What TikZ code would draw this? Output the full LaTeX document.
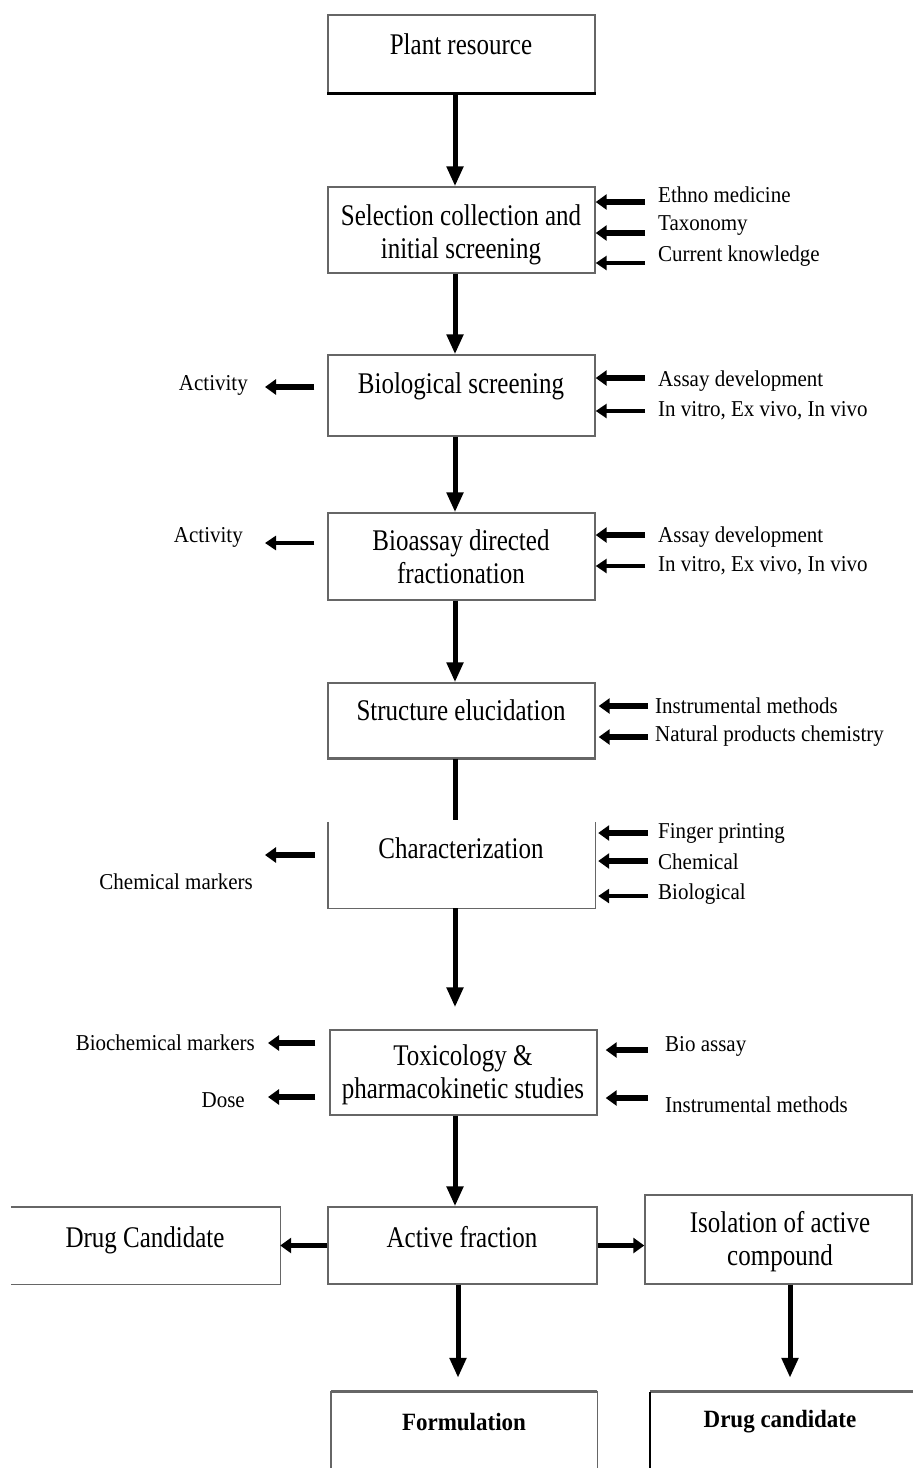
\documentclass[tikz,border=0pt]{standalone}
\usepackage{fontspec}
\usepackage{graphicx}
\setmainfont{Liberation Serif}
\usetikzlibrary{arrows.meta}
% box captions are set slightly tall and narrow
\newcommand\tallbox[1]{\scalebox{1}[1.2]{\begin{tabular}{@{}c@{}}#1\end{tabular}}}
\newcommand\tallside[1]{\scalebox{1}[1.08]{#1}}
\tikzset{
  frame/.style={draw=black!60, line width=1.4pt, inner sep=0pt, minimum width=267pt},
  openframe/.style={draw=none, inner sep=0pt, minimum width=267pt},
  edge/.style={draw=black!60, line width=1.4pt},
  boxtext/.style={font=\fontsize{25}{27.5}\selectfont, inner sep=0pt},
  boldtext/.style={font=\fontsize{23}{26}\selectfont\bfseries, inner sep=0pt},
  sidetext/.style={font=\fontsize{21}{24}\selectfont, inner sep=0pt},
  flow/.style={-{Triangle[length=20pt,width=16pt]}, line width=5pt},
  feed/.style={-{Triangle[length=11pt,width=15pt]}, line width=5.5pt},
  feedthin/.style={-{Triangle[length=11pt,width=14pt]}, line width=3.5pt},
}
\begin{document}
\begin{tikzpicture}[x=1pt,y=-1pt]
\useasboundingbox (0,0) rectangle (913,1468);
\clip (0,0) rectangle (913,1468);
\fill[white] (0,0) rectangle (913,1468);

% main column
\node[frame, minimum height=78pt] (plant) at (461.5,54) {};
\draw[line width=2.6pt] (plant.south west) -- (plant.south east);
\node[boxtext] (plantT) at (461,48) {\tallbox{Plant resource}};

\node[frame, minimum height=86pt] (sel) at (461.5,230) {};
\node[boxtext] (selT) at (461,235) {\tallbox{Selection collection and\\initial screening}};

\node[frame, minimum height=81pt] (bio) at (461.5,395.5) {};
\node[boxtext] (bioT) at (461,387) {\tallbox{Biological screening}};

\node[frame, minimum height=87pt] (assay) at (461.5,556.5) {};
\node[boxtext] (assayT) at (461,560) {\tallbox{Bioassay directed\\fractionation}};

\node[frame, minimum height=75pt] (struct) at (461.5,720.5) {};
\draw[black!60, line width=3pt] (struct.south west) -- (struct.south east);
\node[boxtext] (structT) at (461,714) {\tallbox{Structure elucidation}};

\node[openframe, minimum height=86pt] (char) at (461.5,865) {};
\draw[edge] (char.north west) -- (char.south west) -- (char.south east) -- (char.north east);
\node[boxtext] (charT) at (461,852) {\tallbox{Characterization}};

\node[frame, minimum height=85pt] (tox) at (463.5,1072.5) {};
\node[boxtext] (toxT) at (463,1075) {\tallbox{Toxicology \&\\pharmacokinetic studies}};

\node[frame, minimum width=269pt, minimum height=77pt] (active) at (462.5,1245.5) {};
\node[boxtext] (activeT) at (462,1241) {\tallbox{Active fraction}};

\node[openframe, minimum width=269pt, minimum height=77pt] (drugC) at (145.5,1245.5) {};
\draw[edge] (drugC.north west) -- (drugC.north east) -- (drugC.south east) -- (drugC.south west);
\node[boxtext] (drugCT) at (145,1241) {\tallbox{Drug Candidate}};

\node[frame, minimum height=89pt] (iso) at (778.5,1239.5) {};
\node[boxtext] (isoT) at (780,1242) {\tallbox{Isolation of active\\compound}};

\node[openframe, minimum width=266pt, minimum height=100pt] (form) at (464,1442) {};
\draw[edge] (form.south west) -- (form.north west) -- (form.north east) -- (form.south east);
\draw[black!60, line width=3pt] (form.north west) -- (form.north east);
\node[boldtext] (formT) at (464,1422) {\tallside{Formulation}};

\node[openframe, minimum width=280pt, minimum height=100pt] (drugc) at (790,1442) {};
\draw[black!60, line width=3pt] (drugc.north west) -- (drugc.north east);
\draw[line width=2pt] (drugc.south west) -- (drugc.north west);
\node[boldtext] (drugcT) at (780,1422) {\tallside{Drug candidate}};

% main flow
\draw[flow] ([xshift=-6.5pt]plant.south) -- ([xshift=-6.5pt]sel.north);
\draw[flow] ([xshift=-6.5pt]sel.south) -- ([xshift=-6.5pt]bio.north);
\draw[flow] ([xshift=-6.5pt]bio.south) -- ([xshift=-6.5pt]assay.north);
\draw[flow] ([xshift=-6.5pt]assay.south) -- ([xshift=-6.5pt]struct.north);
\draw[line width=5pt] ([xshift=-6.5pt]struct.south) -- ([xshift=-6.5pt,yshift=2pt]char.north);
\draw[flow, shorten >=22pt] ([xshift=-6.5pt]char.south) -- ([xshift=-8.5pt]tox.north);
\draw[flow] ([xshift=-8.5pt]tox.south) -- ([xshift=-7.5pt]active.north);
\draw[flow, shorten >=14pt] ([xshift=-4.5pt]active.south) -- ([xshift=-6pt]form.north);
\draw[flow, shorten >=14pt] ([xshift=11.5pt]iso.south) -- (drugc.north);
\draw[feed] (active.west) -- (drugC.east);
\draw[feed] (active.east) -- (iso.west |- active.east);

% inputs to selection
\node[sidetext, anchor=west] (ethno) at (658,195) {\tallside{Ethno medicine}};
\node[sidetext, anchor=west] (taxo) at (658,226) {\tallside{Taxonomy}};
\node[sidetext, anchor=west] (curr) at (658,256) {\tallside{Current knowledge}};
\draw[feed] ([xshift=-13pt,yshift=-7pt]ethno.west) -- ([yshift=-7pt]ethno.west -| sel.east);
\draw[feed] ([xshift=-13pt,yshift=-7pt]taxo.west) -- ([yshift=-7pt]taxo.west -| sel.east);
\draw[feedthin] ([xshift=-13pt,yshift=-7pt]curr.west) -- ([yshift=-7pt]curr.west -| sel.east);

% biological screening
\node[sidetext, anchor=west] (asy1) at (658,381) {\tallside{Assay development}};
\node[sidetext, anchor=west] (vit1) at (658,411) {\tallside{In vitro, Ex vivo, In vivo}};
\draw[feed] ([xshift=-13pt,yshift=3pt]asy1.west) -- ([yshift=3pt]asy1.west -| bio.east);
\draw[feedthin] ([xshift=-13pt]vit1.west) -- (vit1.west -| bio.east);
\node[sidetext, anchor=east] (act1) at (248,385) {\tallside{Activity}};
\draw[feed] ([xshift=-13pt,yshift=-2pt]bio.west |- act1.east) -- ([xshift=17pt,yshift=-2pt]act1.east);

% bioassay directed fractionation
\node[sidetext, anchor=west] (asy2) at (658,537) {\tallside{Assay development}};
\node[sidetext, anchor=west] (vit2) at (658,566) {\tallside{In vitro, Ex vivo, In vivo}};
\draw[feed] ([xshift=-13pt,yshift=2pt]asy2.west) -- ([yshift=2pt]asy2.west -| assay.east);
\draw[feedthin] ([xshift=-13pt]vit2.west) -- (vit2.west -| assay.east);
\node[sidetext, anchor=east] (act2) at (243,537) {\tallside{Activity}};
\draw[feedthin] ([xshift=-13pt,yshift=-6pt]assay.west |- act2.east) -- ([xshift=22pt,yshift=-6pt]act2.east);

% structure elucidation
\node[sidetext, anchor=west] (inst1) at (655,706) {\tallside{Instrumental methods}};
\node[sidetext, anchor=west] (natp) at (655,736) {\tallside{Natural products chemistry}};
\draw[feed, shorten >=3pt] ([xshift=-7pt]inst1.west) -- (inst1.west -| struct.east);
\draw[feed, shorten >=3pt] ([xshift=-7pt,yshift=-1pt]natp.west) -- ([yshift=-1pt]natp.west -| struct.east);

% characterization
\node[sidetext, anchor=west] (fing) at (658,833) {\tallside{Finger printing}};
\node[sidetext, anchor=west] (chem) at (658,862) {\tallside{Chemical}};
\node[sidetext, anchor=west] (biol) at (658,894) {\tallside{Biological}};
\draw[feed, shorten >=3pt] ([xshift=-10pt]fing.west) -- (fing.west -| char.east);
\draw[feed, shorten >=3pt] ([xshift=-10pt,yshift=1pt]chem.west) -- ([yshift=1pt]chem.west -| char.east);
\draw[feedthin, shorten >=3pt] ([xshift=-10pt,yshift=-2pt]biol.west) -- ([yshift=-2pt]biol.west -| char.east);
\node[sidetext, anchor=east] (chemm) at (253,882) {\tallside{Chemical markers}};
\draw[feed] ([xshift=-13pt,yshift=10pt]char.west) -- ([xshift=12pt,yshift=27pt]chemm.east);

% toxicology
\node[sidetext, anchor=west] (bioa) at (665,1046) {\tallside{Bio assay}};
\node[sidetext, anchor=west] (inst2) at (665,1105) {\tallside{Instrumental methods}};
\draw[feed, shorten >=8pt] ([xshift=-17pt,yshift=-4pt]bioa.west) -- ([yshift=-4pt]bioa.west -| tox.east);
\draw[feed, shorten >=8pt] ([xshift=-17pt,yshift=7pt]inst2.west) -- ([yshift=7pt]inst2.west -| tox.east);
\node[sidetext, anchor=east] (bcm) at (255,1043) {\tallside{Biochemical markers}};
\node[sidetext, anchor=east] (dose) at (245,1100) {\tallside{Dose}};
\draw[feed] ([xshift=-14pt]tox.west |- bcm.east) -- ([xshift=13pt]bcm.east);
\draw[feed] ([xshift=-14pt,yshift=3pt]tox.west |- dose.east) -- ([xshift=23pt,yshift=3pt]dose.east);
\end{tikzpicture}
\end{document}
